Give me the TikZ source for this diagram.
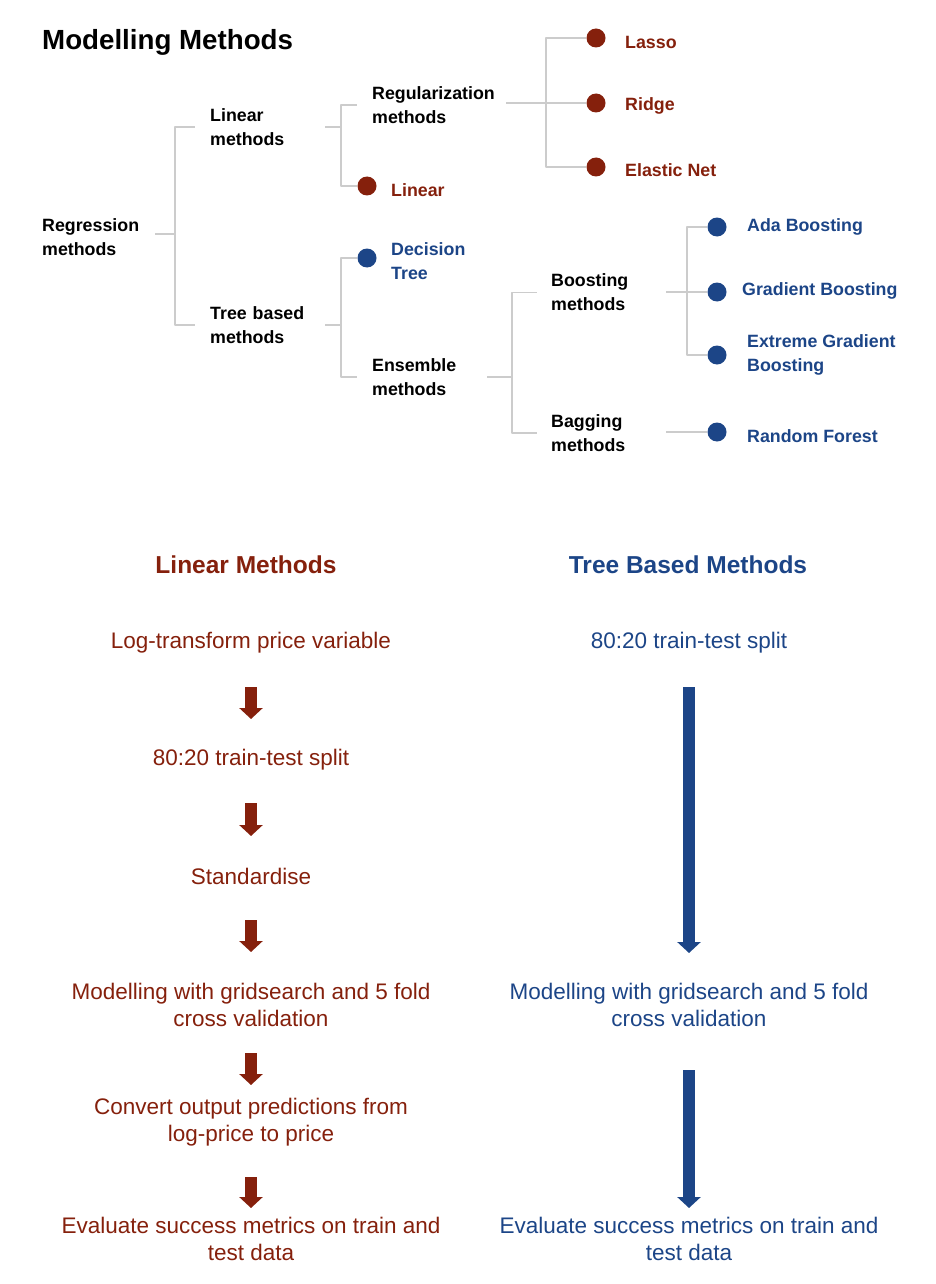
\documentclass[tikz,border=0pt]{standalone}
\usepackage{fontspec}
\setmainfont{Liberation Sans}
\usetikzlibrary{arrows.meta}
\definecolor{lmred}{HTML}{85200C}
\definecolor{tmblue}{HTML}{1C4587}
\begin{document}
\begin{tikzpicture}[x=1pt,y=-1pt,line join=round,
	conn/.style={gray!40,line width=1.6pt},
	lbl/.style={anchor=west,inner sep=0pt,align=left,text width=#1,font=\fontsize{17.8}{24}\selectfont\bfseries},
	leaf/.style={anchor=west,inner sep=0pt,align=left,font=\fontsize{17.8}{24}\selectfont\bfseries,text=#1},
	dot/.style={circle,fill=#1,inner sep=0pt,minimum size=19pt},
	head/.style={font=\fontsize{24.5}{29}\selectfont\bfseries,text=#1},
	flow/.style={align=center,inner sep=0pt,font=\fontsize{22.5}{26.5}\selectfont,text=#1},
	fat/.style={draw=#1,line width=12pt,-{Triangle[width=23pt,length=11pt]}}]
	\useasboundingbox (0,0) rectangle (936,1284);
	
	% tree of methods
	\node[anchor=west,inner sep=0pt,font=\fontsize{27.7}{32}\selectfont\bfseries] (title) at (42,42) {Modelling Methods};
	
	\node[lbl=113pt] (reg) at (42,237) {Regression\\methods};
	\node[lbl=115pt] (lin) at (210,127) {Linear\\methods};
	\node[lbl=115pt] (tree) at (210,325) {Tree based\\methods};
	\node[lbl=134pt] (regu) at (372,105) {Regularization\\methods};
	\node[lbl=115pt] (ens) at (372,377) {Ensemble\\methods};
	\node[lbl=115pt] (boost) at (551,292.5) {Boosting\\methods};
	\node[lbl=115pt] (bag) at (551,433) {Bagging\\methods};
	
	\node[dot=lmred] (dlin) at (367,186) {};
	\node[dot=lmred] (dlasso) at (596,38) {};
	\node[dot=lmred] (dridge) at (596,103) {};
	\node[dot=lmred] (delastic) at (596,167) {};
	\node[dot=tmblue] (ddt) at (367,258) {};
	\node[dot=tmblue] (dada) at (717,227) {};
	\node[dot=tmblue] (dgrad) at (717,292) {};
	\node[dot=tmblue] (dxgb) at (717,355) {};
	\node[dot=tmblue] (drf) at (717,432) {};
	
	\node[leaf=lmred] (linear) at (391,190) {Linear};
	\node[leaf=lmred] (lasso) at (625,42) {Lasso};
	\node[leaf=lmred] (ridge) at (625,106) {Ridge};
	\node[leaf=lmred] (elastic) at (625,170) {Elastic Net};
	\node[leaf=tmblue] (dt) at (391,261) {Decision\\Tree};
	\node[leaf=tmblue] (ada) at (747,227) {Ada Boosting};
	\node[leaf=tmblue] (grad) at (742,291) {Gradient Boosting};
	\node[leaf=tmblue] (xgb) at (747,355) {Extreme Gradient\\Boosting};
	\node[leaf=tmblue] (rf) at (747,436) {Random Forest};
	
	\coordinate (ja) at (175,234);
	\coordinate (jb) at (341,127);
	\coordinate (jc) at (546,103);
	\coordinate (jd) at (341,325);
	\coordinate (je) at (512,377);
	\coordinate (jf) at (687,292);
	
	\draw[conn] (reg.east |- ja) -- (ja) |- ([xshift=-15pt]lin.west);
	\draw[conn] (ja) |- ([xshift=-15pt]tree.west);
	\draw[conn] (lin.east |- jb) -- (jb) |- ([xshift=-15pt]regu.west);
	\draw[conn] (jb) |- (dlin.west);
	\draw[conn] (regu.east |- jc) -- (jc) |- (dlasso.west);
	\draw[conn] (jc) -- (dridge.west);
	\draw[conn] (jc) |- (delastic.west);
	\draw[conn] (tree.east |- jd) -- (jd) |- (ddt.west);
	\draw[conn] (jd) |- ([xshift=-15pt]ens.west);
	\draw[conn] (ens.east |- je) -- (je) |- ([xshift=-14pt]boost.west);
	\draw[conn] (je) |- ([xshift=-14pt]bag.west);
	\draw[conn] (boost.east |- jf) -- (jf) |- (dada.west);
	\draw[conn] (jf) -- (dgrad.west);
	\draw[conn] (jf) |- (dxgb.west);
	\draw[conn] (bag.east |- drf) -- (drf.west);
	
	% linear methods pipeline
	\node[head=lmred] (lhead) at (246,565) {Linear Methods};
	\node[flow=lmred] (l1) at (251,643) {Log-transform price variable};
	\node[flow=lmred] (l2) at (251,760) {80:20 train-test split};
	\node[flow=lmred] (l3) at (251,876) {Standardise};
	\node[flow=lmred] (l4) at (251,1005) {Modelling with gridsearch and 5 fold\\cross validation};
	\node[flow=lmred] (l5) at (251,1122) {Convert output predictions from\\log-price to price};
	\node[flow=lmred] (l6) at (251,1239) {Evaluate success metrics on train and\\test data};
	
	\draw[fat=lmred,shorten <=44pt,shorten >=41pt] (l1.center) -- (l2.center);
	\draw[fat=lmred,shorten <=43pt,shorten >=40pt] (l2.center) -- (l3.center);
	\draw[fat=lmred,shorten <=44pt,shorten >=53pt] (l3.center) -- (l4.center);
	\draw[fat=lmred,shorten <=48pt,shorten >=37pt] (l4.center) -- (l5.center);
	\draw[fat=lmred,shorten <=55pt,shorten >=31pt] (l5.center) -- (l6.center);
	
	% tree based pipeline
	\node[head=tmblue] (thead) at (688,565) {Tree Based Methods};
	\node[flow=tmblue] (t1) at (689,643) {80:20 train-test split};
	\node[flow=tmblue] (t2) at (689,1005) {Modelling with gridsearch and 5 fold\\cross validation};
	\node[flow=tmblue] (t3) at (689,1239) {Evaluate success metrics on train and\\test data};
	
	\draw[fat=tmblue,shorten <=44pt,shorten >=52pt] (t1.center) -- (t2.center);
	\draw[fat=tmblue,shorten <=65pt,shorten >=31pt] (t2.center) -- (t3.center);
\end{tikzpicture}
\end{document}
